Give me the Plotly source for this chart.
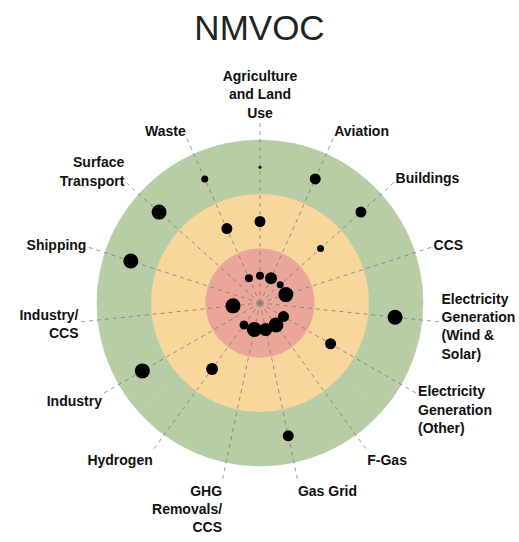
import plotly.graph_objects as go

# ---- data -------------------------------------------------------------
categories = [
    "Agriculture and Land Use", "Aviation", "Buildings", "CCS",
    "Electricity Generation (Wind & Solar)", "Electricity Generation (Other)",
    "F-Gas", "Gas Grid", "GHG Removals/CCS", "Hydrogen", "Industry",
    "Industry/CCS", "Shipping", "Surface Transport", "Waste",
]
tick_labels = [
    "Agriculture<br>and Land<br>Use", "Aviation", "Buildings", "CCS",
    "Electricity<br>Generation<br>(Wind &<br>Solar)", "Electricity<br>Generation<br>(Other)",
    "F-Gas", "Gas Grid", "GHG<br>Removals/<br>CCS", "Hydrogen", "Industry",
    "Industry/<br>CCS", "Shipping", "Surface<br>Transport", "Waste",
]
# dot size (diameter) in each ring: inner, middle, outer (0 = no dot)
inner_sizes  = [8, 12, 7, 15, 0, 11, 15, 13, 15, 9, 0, 15, 0, 0, 8]
middle_sizes = [11, 0, 7, 0, 0, 11, 0, 0, 0, 12, 0, 0, 0, 0, 11]
outer_sizes  = [3, 11, 11, 0, 15, 0, 0, 11, 0, 0, 15, 0, 15, 15, 7]
ring_levels  = [0.5, 1.5, 2.5]
ring_edges   = [3, 2, 1]
ring_colors  = ["#B6CDA6", "#F9D69B", "#EBA69B"]
axis_max = 3.35

fig = go.Figure()

# coloured rings
for edge, col in zip(ring_edges, ring_colors):
    fig.add_trace(go.Barpolar(
        theta=categories, r=[edge] * len(categories),
        marker=dict(color=col, line=dict(color=col, width=0.6)),
        hoverinfo="skip", showlegend=False))

# dashed spokes
th, rr = [], []
for c in categories:
    th += [c, c, None]
    rr += [0, axis_max, None]
fig.add_trace(go.Scatterpolar(
    theta=th, r=rr, mode="lines", connectgaps=False,
    line=dict(color="rgba(120,120,120,0.75)", width=1, dash="4px,4px"),
    hoverinfo="skip", showlegend=False))

# dots
for level, sizes in zip(ring_levels, [inner_sizes, middle_sizes, outer_sizes]):
    th = [c for c, s in zip(categories, sizes) if s > 0]
    sz = [s for s in sizes if s > 0]
    fig.add_trace(go.Scatterpolar(
        theta=th, r=[level] * len(th), mode="markers",
        marker=dict(color="#000000", size=sz, opacity=1, line=dict(width=0)),
        showlegend=False))

fig.update_layout(
    width=519, height=542,
    margin=dict(l=78, r=77, t=121, b=57),
    paper_bgcolor="white",
    title=dict(text="NMVOC", x=0.5, xanchor="center", y=0.949, yanchor="middle",
               font=dict(family="Liberation Sans, Arial", size=35, color="#222222")),
    polar=dict(
        bgcolor="white",
        bargap=0,
        barmode="overlay",
        radialaxis=dict(visible=False, range=[0, axis_max]),
        angularaxis=dict(
            type="category", categoryorder="array", categoryarray=categories,
            rotation=90, direction="clockwise",
            showgrid=False, showline=False, ticks="",
            tickvals=categories, ticktext=tick_labels,
            tickfont=dict(family="Liberation Sans, Arial", size=14,
                          color="#111111", weight="bold"),
        ),
    ),
)

fig.write_html(
    "out.html",
    config={"displayModeBar": False},
    post_script="document.body.style.margin='0';document.body.style.overflow='hidden';",
)
